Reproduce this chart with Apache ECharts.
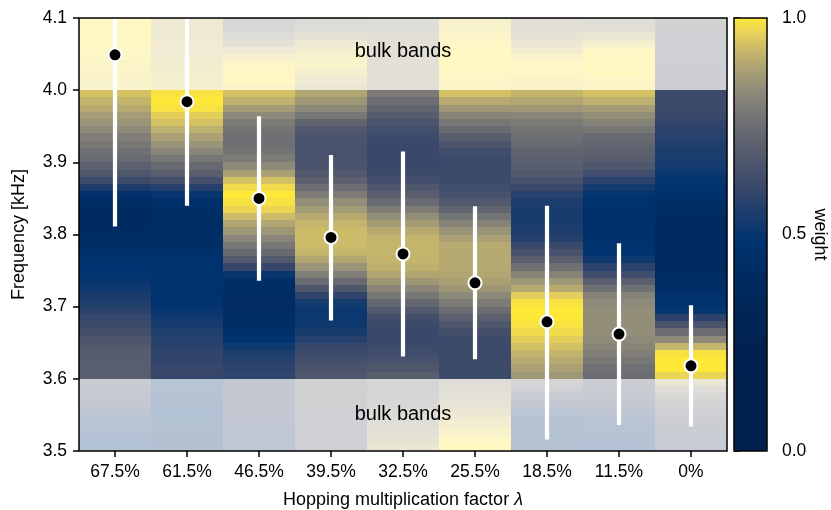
<!DOCTYPE html>
<html>
<head>
<meta charset="utf-8">
<script src="https://cdn.jsdelivr.net/npm/echarts@6/dist/echarts.min.js"></script>
<style>
  html, body { margin: 0; padding: 0; background: #fff; }
  #chart { width: 831px; height: 510px; }
</style>
</head>
<body>
<div id="chart"></div>
<script>
(function() {
  'use strict';

  // === Data ===
  var categories = ['67.5%', '61.5%', '46.5%', '39.5%', '32.5%', '25.5%', '18.5%', '11.5%', '0%'];

  // weight per frequency row, 4.10 kHz down to 3.50 kHz in 0.01 kHz rows
  // (10 rows upper bulk, 40 rows gap, 10 rows lower bulk)
  var FREQ_TOP = 4.1;
  var ROW_STEP = 0.01;

  var w675 = [1.0, 1.0, 1.0, 1.0, 0.99, 0.99, 0.98, 0.98, 0.97, 0.97,
    0.94, 0.92, 0.90, 0.87, 0.85, 0.83, 0.80, 0.78, 0.76, 0.74,
    0.71, 0.67, 0.62, 0.55, 0.46, 0.42, 0.40, 0.40, 0.40, 0.41,
    0.42, 0.44, 0.46, 0.47, 0.48, 0.49, 0.50, 0.52, 0.54, 0.56,
    0.58, 0.60, 0.62, 0.64, 0.66, 0.68, 0.69, 0.70, 0.70, 0.70,
    0.66, 0.64, 0.62, 0.60, 0.57, 0.55, 0.52, 0.50, 0.48, 0.47];
  var w615 = [0.92, 0.92, 0.92, 0.93, 0.93, 0.94, 0.94, 0.95, 0.95, 0.95,
    0.99, 1.0, 0.99, 0.96, 0.94, 0.91, 0.88, 0.85, 0.82, 0.78,
    0.74, 0.70, 0.64, 0.57, 0.50, 0.45, 0.43, 0.42, 0.42, 0.42,
    0.43, 0.44, 0.46, 0.47, 0.47, 0.47, 0.47, 0.47, 0.47, 0.48,
    0.50, 0.52, 0.54, 0.56, 0.57, 0.58, 0.59, 0.59, 0.60, 0.60,
    0.52, 0.51, 0.50, 0.49, 0.48, 0.47, 0.46, 0.45, 0.43, 0.42];
  var w465 = [0.79, 0.80, 0.83, 0.87, 0.92, 0.96, 0.99, 1.0, 1.0, 0.98,
    0.94, 0.91, 0.87, 0.83, 0.79, 0.77, 0.76, 0.76, 0.77, 0.79,
    0.83, 0.88, 0.94, 0.98, 1.0, 0.99, 0.97, 0.93, 0.89, 0.86,
    0.82, 0.78, 0.74, 0.68, 0.60, 0.50, 0.44, 0.42, 0.41, 0.41,
    0.41, 0.42, 0.43, 0.45, 0.48, 0.52, 0.55, 0.57, 0.58, 0.59,
    0.60, 0.60, 0.60, 0.60, 0.60, 0.60, 0.59, 0.59, 0.58, 0.58];
  var w395 = [0.82, 0.84, 0.88, 0.92, 0.95, 0.97, 0.97, 0.95, 0.93, 0.91,
    0.89, 0.86, 0.83, 0.78, 0.72, 0.68, 0.66, 0.65, 0.65, 0.65,
    0.66, 0.68, 0.71, 0.75, 0.79, 0.84, 0.87, 0.90, 0.92, 0.93,
    0.93, 0.93, 0.92, 0.89, 0.85, 0.80, 0.74, 0.67, 0.59, 0.53,
    0.51, 0.51, 0.52, 0.54, 0.57, 0.60, 0.62, 0.64, 0.66, 0.67,
    0.73, 0.73, 0.73, 0.73, 0.72, 0.72, 0.72, 0.71, 0.71, 0.71];
  var w325 = [0.84, 0.84, 0.85, 0.85, 0.86, 0.86, 0.86, 0.86, 0.86, 0.86,
    0.79, 0.75, 0.72, 0.69, 0.66, 0.64, 0.62, 0.61, 0.61, 0.61,
    0.61, 0.62, 0.64, 0.67, 0.70, 0.74, 0.79, 0.84, 0.87, 0.90,
    0.92, 0.92, 0.92, 0.92, 0.91, 0.89, 0.86, 0.82, 0.78, 0.73,
    0.68, 0.64, 0.62, 0.61, 0.61, 0.62, 0.63, 0.65, 0.67, 0.70,
    0.77, 0.77, 0.78, 0.79, 0.81, 0.83, 0.85, 0.87, 0.89, 0.91];
  var w255 = [0.96, 0.97, 0.98, 0.99, 1.0, 1.0, 1.0, 0.99, 0.99, 0.98,
    0.94, 0.90, 0.86, 0.82, 0.78, 0.74, 0.70, 0.66, 0.63, 0.62,
    0.62, 0.62, 0.62, 0.63, 0.65, 0.68, 0.72, 0.77, 0.81, 0.85,
    0.88, 0.90, 0.90, 0.90, 0.90, 0.89, 0.88, 0.86, 0.83, 0.79,
    0.75, 0.71, 0.67, 0.64, 0.62, 0.62, 0.62, 0.62, 0.62, 0.62,
    0.84, 0.85, 0.87, 0.89, 0.91, 0.93, 0.95, 0.97, 0.99, 1.0];
  var w185 = [0.85, 0.86, 0.88, 0.91, 0.94, 0.97, 0.99, 0.99, 0.98, 0.97,
    0.92, 0.89, 0.86, 0.82, 0.79, 0.77, 0.76, 0.74, 0.72, 0.71,
    0.70, 0.68, 0.65, 0.61, 0.57, 0.55, 0.54, 0.54, 0.54, 0.55,
    0.57, 0.61, 0.65, 0.70, 0.76, 0.81, 0.86, 0.90, 0.96, 0.99,
    1.0, 1.0, 0.99, 0.98, 0.96, 0.94, 0.92, 0.90, 0.88, 0.86,
    0.77, 0.72, 0.66, 0.60, 0.55, 0.51, 0.49, 0.47, 0.46, 0.46];
  var w115 = [0.84, 0.86, 0.90, 0.95, 0.99, 1.0, 1.0, 1.0, 0.99, 0.98,
    0.94, 0.91, 0.87, 0.84, 0.81, 0.78, 0.74, 0.72, 0.71, 0.70,
    0.67, 0.63, 0.58, 0.53, 0.49, 0.47, 0.46, 0.46, 0.46, 0.46,
    0.46, 0.47, 0.48, 0.52, 0.58, 0.63, 0.70, 0.76, 0.81, 0.83,
    0.84, 0.84, 0.84, 0.84, 0.83, 0.82, 0.80, 0.78, 0.76, 0.75,
    0.68, 0.66, 0.63, 0.60, 0.57, 0.55, 0.52, 0.50, 0.49, 0.48];
  var w0 = [0.73, 0.73, 0.72, 0.72, 0.71, 0.71, 0.70, 0.70, 0.70, 0.70,
    0.62, 0.62, 0.62, 0.61, 0.59, 0.58, 0.57, 0.56, 0.55, 0.54,
    0.53, 0.51, 0.49, 0.47, 0.46, 0.44, 0.42, 0.41, 0.40, 0.40,
    0.40, 0.40, 0.40, 0.40, 0.40, 0.41, 0.42, 0.44, 0.46, 0.47,
    0.50, 0.58, 0.66, 0.75, 0.83, 0.92, 0.99, 1.0, 1.0, 0.97,
    0.90, 0.84, 0.79, 0.75, 0.72, 0.70, 0.68, 0.67, 0.66, 0.65];

  var columns = [w675, w615, w465, w395, w325, w255, w185, w115, w0];

  // fitted mode frequency and its spread (kHz)
  var peakFreq = [4.049, 3.984, 3.850, 3.796, 3.773, 3.733, 3.679, 3.662, 3.618];
  var spreadLow = [3.811, 3.840, 3.736, 3.681, 3.631, 3.627, 3.516, 3.536, 3.534];
  var spreadHigh = [4.13, 4.12, 3.964, 3.910, 3.915, 3.839, 3.840, 3.788, 3.702];

  // bulk band frequency ranges (kHz) and their label
  var bulkBands = [[4.0, 4.1], [3.5, 3.6]];
  var bulkLabelFreq = [4.054, 3.551];
  var BULK_LABEL = 'bulk bands';

  // === Colour map: cividis on a power-law norm ===
  var CIVIDIS = ['#00204D', '#00336F', '#39486B', '#575C6D', '#707173',
    '#8A8779', '#A69D75', '#C4B56C', '#E4CF5B', '#FEE838'];
  var GAMMA = 3;

  function hexToRgb(h) {
    return [parseInt(h.substr(1, 2), 16), parseInt(h.substr(3, 2), 16), parseInt(h.substr(5, 2), 16)];
  }
  function cividisAt(t) {
    var pos = t * (CIVIDIS.length - 1);
    var i = Math.min(Math.floor(pos), CIVIDIS.length - 2);
    var f = pos - i;
    var a = hexToRgb(CIVIDIS[i]), b = hexToRgb(CIVIDIS[i + 1]);
    var c = a.map(function(v, k) { return Math.round(v + (b[k] - v) * f); });
    return 'rgb(' + c.join(',') + ')';
  }
  var colorStops = [];
  for (var k = 0; k <= 50; k++) colorStops.push(cividisAt(Math.pow(k / 50, GAMMA)));

  // === Build series data from the arrays ===
  var cellData = [];
  columns.forEach(function(col, ci) {
    col.forEach(function(w, ri) {
      var hi = FREQ_TOP - ri * ROW_STEP;
      cellData.push([ci, +(hi - ROW_STEP).toFixed(3), +hi.toFixed(3), w]);
    });
  });
  var spreadData = peakFreq.map(function(f, i) { return [i, spreadLow[i], spreadHigh[i]]; });
  var peakData = peakFreq.map(function(f, i) { return [i, f]; });
  var bulkData = bulkBands.map(function(b) { return [0, b[0], b[1]]; });
  var labelData = bulkLabelFreq.map(function(f) { return [4, f]; });

  var FONT = '"Liberation Sans", Arial, Helvetica, sans-serif';
  var TXT = '#000';
  var TICK_SIZE = 17.5;
  var NAME_SIZE = 18;

  function renderCell(params, api) {
    var x = api.value(0);
    var top = api.coord([x, api.value(2)]);
    var bot = api.coord([x, api.value(1)]);
    var band = api.size([1, 0])[0];
    var x0 = Math.round(top[0] - band / 2), x1 = Math.round(top[0] + band / 2);
    var y0 = Math.round(top[1]), y1 = Math.round(bot[1]);
    return {
      type: 'rect',
      shape: { x: x0, y: y0, width: x1 - x0, height: y1 - y0 },
      style: { fill: api.visual('color') }
    };
  }

  function renderBulk(params, api) {
    var cs = params.coordSys;
    var top = Math.round(api.coord([0, api.value(2)])[1]);
    var bot = Math.round(api.coord([0, api.value(1)])[1]);
    return {
      type: 'rect',
      shape: { x: cs.x, y: top, width: cs.width, height: bot - top },
      style: { fill: '#ffffff', opacity: 0.7 }
    };
  }

  function renderSpread(params, api) {
    var cs = params.coordSys;
    var hi = api.coord([api.value(0), api.value(2)]);
    var lo = api.coord([api.value(0), api.value(1)]);
    return {
      type: 'line',
      shape: { x1: hi[0], y1: Math.max(hi[1], cs.y), x2: lo[0], y2: Math.min(lo[1], cs.y + cs.height) },
      style: { stroke: '#ffffff', lineWidth: 4.2 }
    };
  }

  function renderLabel(params, api) {
    var p = api.coord([api.value(0), api.value(1)]);
    return {
      type: 'text',
      x: p[0], y: p[1],
      style: {
        text: BULK_LABEL, fill: TXT, fontSize: 20, fontFamily: FONT,
        align: 'center', verticalAlign: 'middle'
      }
    };
  }

  var chart = echarts.init(document.getElementById('chart'), null, { renderer: 'canvas' });

  var option = {
    animation: false,
    backgroundColor: '#fff',
    grid: [
      { left: 79, right: 104, top: 18, bottom: 59, show: true, z: 5, outerBoundsMode: 'none',
        borderColor: '#000', borderWidth: 1.5, backgroundColor: 'transparent' },
      { left: 734, width: 33, top: 18, height: 433, show: true, z: 5, outerBoundsMode: 'none',
        borderColor: '#000', borderWidth: 1.5, backgroundColor: 'transparent' }
    ],
    xAxis: [
      {
        gridIndex: 0,
        type: 'category',
        data: categories,
        boundaryGap: true,
        axisLine: { show: false },
        axisTick: { show: true, alignWithLabel: true, length: 6, lineStyle: { color: '#000', width: 1.5 } },
        axisLabel: { color: TXT, fontSize: TICK_SIZE, fontFamily: FONT, margin: 12 },
        splitLine: { show: false },
        name: 'Hopping multiplication factor {i|λ}',
        nameLocation: 'middle',
        nameGap: 40,
        nameTextStyle: {
          color: TXT, fontSize: NAME_SIZE, fontFamily: FONT,
          rich: { i: { fontStyle: 'italic', fontSize: NAME_SIZE, fontFamily: FONT, color: TXT } }
        }
      },
      { gridIndex: 1, type: 'value', min: 0, max: 1, show: false }
    ],
    yAxis: [
      {
        gridIndex: 0,
        type: 'value',
        min: 3.5,
        max: 4.1,
        interval: 0.1,
        axisLine: { show: false },
        axisTick: { show: true, length: 6, lineStyle: { color: '#000', width: 1.5 } },
        axisLabel: {
          color: TXT, fontSize: TICK_SIZE, fontFamily: FONT, margin: 12,
          formatter: function(v) { return v.toFixed(1); }
        },
        splitLine: { show: false },
        name: 'Frequency [kHz]',
        nameLocation: 'middle',
        nameGap: 51,
        nameTextStyle: { color: TXT, fontSize: NAME_SIZE, fontFamily: FONT }
      },
      {
        gridIndex: 1,
        type: 'value',
        position: 'right',
        min: 0,
        max: 1,
        interval: 0.5,
        axisLine: { show: false },
        axisTick: { show: true, length: 6, lineStyle: { color: '#000', width: 1.5 } },
        axisLabel: {
          color: TXT, fontSize: TICK_SIZE, fontFamily: FONT, margin: 15,
          formatter: function(v) { return v.toFixed(1); }
        },
        splitLine: { show: false },
        name: 'weight',
        nameLocation: 'middle',
        nameRotate: -90,
        nameGap: 44,
        nameTextStyle: { color: TXT, fontSize: NAME_SIZE, fontFamily: FONT }
      }
    ],
    visualMap: {
      type: 'continuous',
      min: 0,
      max: 1,
      seriesIndex: 0,
      dimension: 3,
      orient: 'vertical',
      left: 734,
      top: 18,
      padding: 0,
      itemWidth: 33,
      itemHeight: 433,
      calculable: false,
      hoverLink: false,
      text: null,
      inRange: { color: colorStops }
    },
    series: [
      {
        type: 'custom',
        name: 'weight',
        xAxisIndex: 0, yAxisIndex: 0,
        renderItem: renderCell,
        encode: { x: 0, y: [1, 2] },
        data: cellData,
        z: 1
      },
      {
        type: 'custom',
        name: 'bulk',
        xAxisIndex: 0, yAxisIndex: 0,
        renderItem: renderBulk,
        encode: { x: 0, y: [1, 2] },
        data: bulkData,
        z: 2
      },
      {
        type: 'custom',
        name: 'spread',
        xAxisIndex: 0, yAxisIndex: 0,
        renderItem: renderSpread,
        encode: { x: 0, y: [1, 2] },
        data: spreadData,
        z: 3
      },
      {
        type: 'scatter',
        name: 'peak',
        xAxisIndex: 0, yAxisIndex: 0,
        data: peakData,
        symbol: 'circle',
        symbolSize: 13,
        itemStyle: { color: '#000', borderColor: '#fff', borderWidth: 2, opacity: 1 },
        z: 4
      },
      {
        type: 'custom',
        name: 'labels',
        xAxisIndex: 0, yAxisIndex: 0,
        renderItem: renderLabel,
        encode: { x: 0, y: 1 },
        data: labelData,
        z: 4
      }
    ]
  };

  chart.setOption(option);
})();
</script>
</body>
</html>
